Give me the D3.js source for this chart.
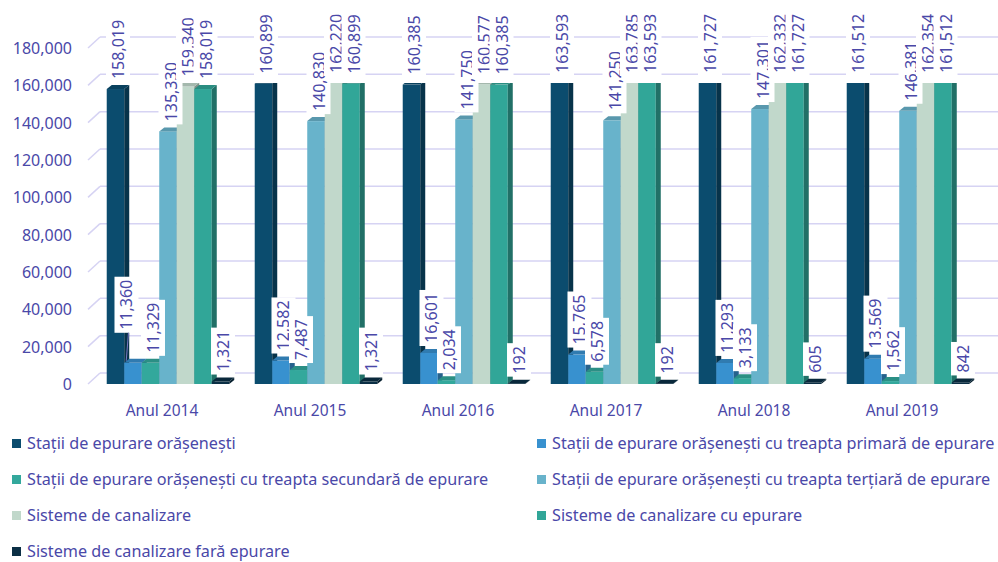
<!DOCTYPE html>
<html>
<head>
<meta charset="utf-8">
<script src="https://cdn.jsdelivr.net/npm/d3@7"></script>
<style>
  body { margin: 0; background: #fff; }
  svg { display: block; font-family: "Noto Sans", "Open Sans", sans-serif; }
</style>
</head>
<body>
<svg id="chart" width="998" height="562"></svg>
<script>
const years = ['Anul 2014', 'Anul 2015', 'Anul 2016', 'Anul 2017', 'Anul 2018', 'Anul 2019'];

const seriesNames = ['Stații de epurare orășenești',
       'Stații de epurare orășenești cu treapta primară de epurare',
       'Stații de epurare orășenești cu treapta secundară de epurare',
       'Stații de epurare orășenești cu treapta terțiară de epurare',
       'Sisteme de canalizare',
       'Sisteme de canalizare cu epurare',
       'Sisteme de canalizare fară epurare'];

const statiiOrasenesti = [158019, 160899, 160385, 163593, 161727, 161512];
const treaptaPrimara = [11360, 12582, 16601, 15765, 11293, 13569];
const treaptaSecundara = [11329, 7487, 2034, 6578, 3133, 1562];
const treaptaTertiara = [135330, 140830, 141750, 141250, 147301, 146381];
const sistemeCanalizare = [159340, 162220, 160577, 163785, 162332, 162354];
const canalizareCuEpurare = [158019, 160899, 160385, 163593, 161727, 161512];
const canalizareFaraEpurare = [1321, 1321, 192, 192, 605, 842];

const yTicks = [0, 20000, 40000, 60000, 80000, 100000, 120000, 140000, 160000, 180000];

const colors = ['#0b4c6e', '#3891cf', '#33a89c', '#68b3cb', '#c1d8cb', '#31a698', '#0b2f45'];

const series = [statiiOrasenesti, treaptaPrimara, treaptaSecundara, treaptaTertiara,
       sistemeCanalizare, canalizareCuEpurare, canalizareFaraEpurare];

const textColor = '#4a48a8';

function create_3d_bar_chart(canvas_id) {
    var chart = d3.select('#' + canvas_id);
    var depthX = 5, depthY = 4;   // bar depth
    var wallX = 12, wallY = 11;   // back wall offset
    var ys = d3.scaleLinear().domain([0, 180000]).range([384, 48]);
    var x0 = d3.scaleBand().domain(years).range([94, 982]).paddingInner(0.172).paddingOuter(0.086);
    var x1 = d3.scaleBand().domain(d3.range(series.length)).range([0, x0.bandwidth()]);
    var clipTop = 83;

    // gridlines on the back wall plus the slanted stubs
    var grid = chart.append('g');
    grid.selectAll('line.back').data(yTicks).enter().append('line')
        .attr('x1', 88 + wallX).attr('x2', 998)
        .attr('y1', function (d) { return ys(d) - wallY; })
        .attr('y2', function (d) { return ys(d) - wallY; })
        .attr('stroke', '#d6d3f3').attr('stroke-width', 1.5);
    grid.selectAll('line.stub').data(yTicks).enter().append('line')
        .attr('x1', 88).attr('x2', 88 + wallX)
        .attr('y1', function (d) { return ys(d); })
        .attr('y2', function (d) { return ys(d) - wallY; })
        .attr('stroke', '#d6d3f3').attr('stroke-width', 1.5);

    chart.append('g').selectAll('text').data(yTicks).enter().append('text')
        .attr('x', 72).attr('y', function (d) { return ys(d); })
        .attr('text-anchor', 'end').attr('dominant-baseline', 'central')
        .style('font-size', '16px').style('fill', textColor)
        .text(function (d) { return d3.format(',')(d); });

    chart.append('clipPath').attr('id', 'plotclip').append('rect')
        .attr('x', 0).attr('y', clipTop).attr('width', 998).attr('height', 400);

    var bars = chart.append('g').attr('clip-path', 'url(#plotclip)');
    years.forEach(function (year, gi) {
        series.forEach(function (vals, si) {
            var v = vals[gi];
            var x = x0(year) + x1(si), w = x1.bandwidth();
            var yt = ys(v), yb = ys(0);
            var c = d3.color(colors[si]);
            var g = bars.append('g');
            g.append('rect').attr('x', x).attr('y', yt).attr('width', w).attr('height', yb - yt)
                .attr('fill', c);
            g.append('path')
                .attr('d', 'M' + [x + w, yt] + 'L' + [x + w + depthX, yt - depthY] + 'L' + [x + w + depthX, yb - depthY] + 'L' + [x + w, yb] + 'Z')
                .attr('fill', c.darker(1.1));
            g.append('path')
                .attr('d', 'M' + [x, yt] + 'L' + [x + depthX, yt - depthY] + 'L' + [x + w + depthX, yt - depthY] + 'L' + [x + w, yt] + 'Z')
                .attr('fill', c.darker(0.45));
        });
    });

    // data labels, with one label moved by hand in the original
    var nudge = {'0-1': [-9, -23]};
    var labels = chart.append('g');
    years.forEach(function (year, gi) {
        series.forEach(function (vals, si) {
            var v = vals[gi];
            var off = nudge[gi + '-' + si] || [0, 0];
            var cx = x0(year) + x1(si) + x1.bandwidth() / 2 + depthX / 2 + off[0];
            var bottom = Math.max(ys(v), clipTop) - 7 + off[1];
            var lg = labels.append('g').attr('transform', 'translate(' + cx + ',' + bottom + ') rotate(-90)');
            if (off[1] !== 0) {
                labels.append('line')
                    .attr('x1', cx + 2).attr('y1', bottom)
                    .attr('x2', x0(year) + x1(si) + 2).attr('y2', ys(v) - 2)
                    .attr('stroke', '#7b79c4').attr('stroke-width', 1);
            }
            var rect = lg.append('rect').attr('fill', '#fff');
            var t = lg.append('text').attr('x', 3).attr('y', 0)
                .attr('dominant-baseline', 'central')
                .style('font-size', '16px').style('fill', textColor)
                .text(d3.format(',')(v));
            var len = t.node().getComputedTextLength();
            rect.attr('x', 0).attr('y', -12).attr('width', len + 6).attr('height', 24);
        });
    });

    chart.append('g').selectAll('text').data(years).enter().append('text')
        .attr('x', function (d) { return x0(d) + x0.bandwidth() / 2 - 6; })
        .attr('y', 410)
        .attr('text-anchor', 'middle').attr('dominant-baseline', 'central')
        .style('font-size', '15.5px').style('fill', textColor)
        .text(function (d) { return d; });

    // legend, two columns
    var legend = chart.append('g');
    seriesNames.forEach(function (name, i) {
        var lx = i % 2 === 0 ? 12 : 537;
        var ly = 443 + Math.floor(i / 2) * 36;
        legend.append('rect').attr('x', lx).attr('y', ly - 4).attr('width', 9).attr('height', 9)
            .attr('fill', colors[i]);
        legend.append('text').attr('x', lx + 15).attr('y', ly)
            .attr('dominant-baseline', 'central')
            .style('font-size', '16.2px').style('fill', textColor)
            .text(name);
    });
}

create_3d_bar_chart('chart');
</script>
</body>
</html>
